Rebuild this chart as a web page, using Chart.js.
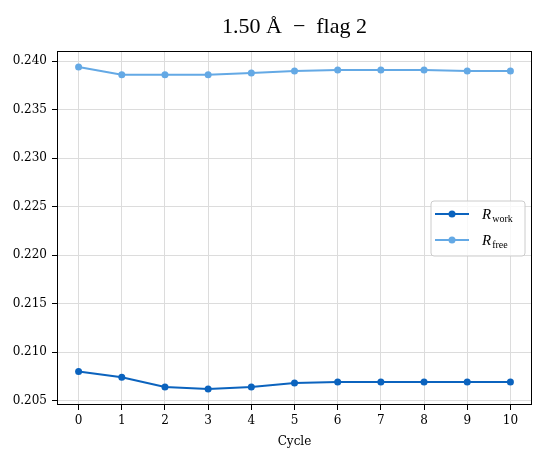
<!DOCTYPE html>
<html>
<head>
<meta charset="utf-8">
<script src="https://cdn.jsdelivr.net/npm/chart.js@4.4.1/dist/chart.umd.min.js"></script>
<style>
html,body{margin:0;padding:0;background:#fff;}
#wrap{width:546px;height:456px;position:relative;}
</style>
</head>
<body>
<div id="wrap"><canvas id="c"></canvas></div>
<script>
const cycles = ['0','1','2','3','4','5','6','7','8','9','10'];
const rWork = [0.2080, 0.2074, 0.2064, 0.2062, 0.2064, 0.2068, 0.2069, 0.2069, 0.2069, 0.2069, 0.2069];
const rFree = [0.2394, 0.2386, 0.2386, 0.2386, 0.2388, 0.2390, 0.2391, 0.2391, 0.2391, 0.2390, 0.2390];
const yTicks = [0.205, 0.210, 0.215, 0.220, 0.225, 0.230, 0.235, 0.240];
const titleText = '1.50 Å  \u2212  flag 2';
const xTitle = 'Cycle';

const C_WORK = '#0b63be';
const C_FREE = '#64a9e5';

const frame = {
  id: 'frame',
  afterDraw(chart) {
    const {ctx, chartArea: a} = chart;
    ctx.save();
    ctx.strokeStyle = '#000';
    ctx.lineWidth = 1;
    ctx.strokeRect(Math.round(a.left) + 0.5, Math.round(a.top) + 0.5,
      Math.round(a.right - a.left) - 1, Math.round(a.bottom - a.top) - 1);
    ctx.restore();
  }
};

const axesTitle = {
  id: 'axesTitle',
  afterDraw(chart) {
    const {ctx, chartArea: a} = chart;
    ctx.save();
    ctx.fillStyle = '#000';
    ctx.font = '22px "Liberation Serif"';
    ctx.textAlign = 'center';
    ctx.textBaseline = 'alphabetic';
    ctx.fillText(titleText, (a.left + a.right) / 2, 33);
    ctx.restore();
  }
};

const mathLegend = {
  id: 'mathLegend',
  afterDraw(chart) {
    const {ctx, chartArea: a} = chart;
    const bx = a.right - 101, by = 201, bw = 94, bh = 55, r = 3;
    ctx.save();
    ctx.beginPath();
    ctx.moveTo(bx + r, by);
    ctx.arcTo(bx + bw, by, bx + bw, by + bh, r);
    ctx.arcTo(bx + bw, by + bh, bx, by + bh, r);
    ctx.arcTo(bx, by + bh, bx, by, r);
    ctx.arcTo(bx, by, bx + bw, by, r);
    ctx.closePath();
    ctx.fillStyle = 'rgba(255,255,255,0.8)';
    ctx.fill();
    ctx.strokeStyle = '#cccccc';
    ctx.lineWidth = 1;
    ctx.stroke();
    chart.data.datasets.forEach((ds, i) => {
      const yy = by + 13 + i * 26;
      const x0 = bx + 4, x1 = bx + 38;
      ctx.strokeStyle = ds.borderColor;
      ctx.lineWidth = 2;
      ctx.beginPath();
      ctx.moveTo(x0, yy);
      ctx.lineTo(x1, yy);
      ctx.stroke();
      ctx.fillStyle = ds.borderColor;
      ctx.beginPath();
      ctx.arc((x0 + x1) / 2, yy, 3.5, 0, Math.PI * 2);
      ctx.fill();
      const parts = ds.label.split('_');
      ctx.fillStyle = '#000';
      ctx.textBaseline = 'alphabetic';
      ctx.textAlign = 'left';
      ctx.font = 'italic 15px "Liberation Serif"';
      const tx = bx + 51;
      ctx.fillText(parts[0], tx, yy + 5);
      const w = ctx.measureText(parts[0]).width;
      ctx.font = '10px "Liberation Serif"';
      ctx.fillText(parts[1] || '', tx + w + 1, yy + 8);
    });
    ctx.restore();
  }
};

new Chart(document.getElementById('c'), {
  type: 'line',
  data: {
    labels: cycles,
    datasets: [
      { label: 'R_work', data: rWork, borderColor: C_WORK, backgroundColor: C_WORK,
        borderWidth: 2, pointRadius: 3.5, pointBorderWidth: 0, pointBackgroundColor: C_WORK, tension: 0 },
      { label: 'R_free', data: rFree, borderColor: C_FREE, backgroundColor: C_FREE,
        borderWidth: 2, pointRadius: 3.5, pointBorderWidth: 0, pointBackgroundColor: C_FREE, tension: 0 }
    ]
  },
  options: {
    responsive: true,
    maintainAspectRatio: false,
    animation: false,
    layout: { padding: { left: 0, right: 14, top: 51, bottom: 0 } },
    plugins: {
      legend: { display: false },
      tooltip: { enabled: false },
      title: { display: false }
    },
    scales: {
      x: {
        type: 'category',
        offset: true,
        grid: { color: '#dcdcdc', lineWidth: 1, tickColor: '#000', tickLength: 5, offset: false },
        border: { display: false },
        ticks: { color: '#000', font: { family: '"DejaVu Serif"', size: 12 }, padding: 4, maxRotation: 0, autoSkip: false },
        title: { display: true, text: xTitle, color: '#000', font: { family: '"DejaVu Serif"', size: 12 }, padding: { top: 0, bottom: 7 } },
        afterFit(s) { s.height = 51; }
      },
      y: {
        type: 'linear',
        min: 0.20454, max: 0.24106,
        grid: { color: '#dcdcdc', lineWidth: 1, tickColor: '#000', tickLength: 5 },
        border: { display: false },
        afterBuildTicks(s) { s.ticks = yTicks.map(v => ({ value: v })); },
        ticks: { color: '#000', font: { family: '"DejaVu Serif"', size: 12 }, padding: 5,
          callback: v => Number(v).toFixed(3) },
        afterFit(s) { s.width = 57; }
      }
    }
  },
  plugins: [frame, axesTitle, mathLegend]
});
</script>
</body>
</html>
